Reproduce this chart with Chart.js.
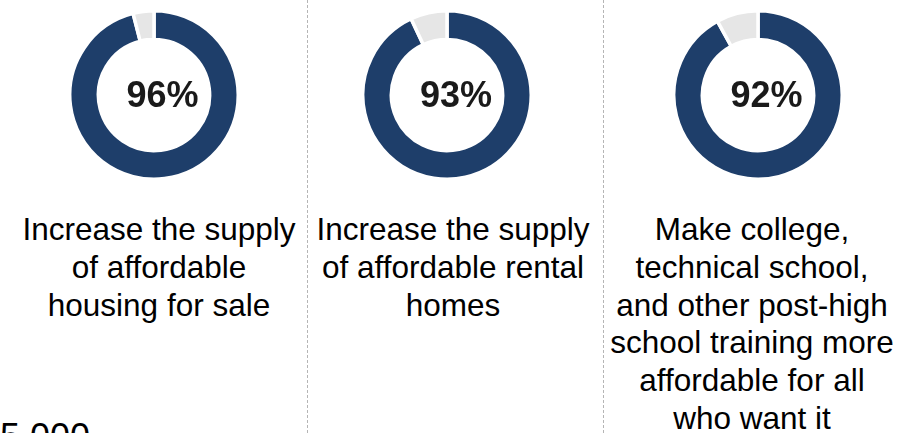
<!DOCTYPE html>
<html>
<head>
<meta charset="utf-8">
<script src="https://cdn.jsdelivr.net/npm/chart.js@4/dist/chart.umd.min.js"></script>
<style>
  html, body { margin: 0; padding: 0; background: #fff; }
  body { width: 920px; height: 433px; position: relative; overflow: hidden;
         font-family: "Liberation Sans", Arial, sans-serif; color: #000; }
  .ring { position: absolute; width: 172px; height: 172px; }
  .pct { position: absolute; width: 140px; text-align: center; font-weight: bold;
         font-size: 36px; line-height: 36px; color: #1a1a1a; }
  .label { position: absolute; white-space: nowrap; text-align: center;
           font-size: 31.5px; line-height: 37.8px; transform: translateX(-50%); }
  .sep { position: absolute; top: 0; height: 433px; width: 0;
         border-left: 1px dashed #b5b5b5; }
  .axisnum { position: absolute; left: 0; top: 419px; font-size: 36px; line-height: 36px; }
</style>
</head>
<body>
<div class="sep" style="left:307px"></div>
<div class="sep" style="left:603px"></div>
<div class="axisnum">5,000</div>

<script>
// valeurs
const categories = [
  'Increase the supply of affordable housing for sale',
  'Increase the supply of affordable rental homes',
  'Make college, technical school, and other post-high school training more affordable for all who want it'
]
const labelLines = [
  ['Increase the supply', 'of affordable', 'housing for sale'],
  ['Increase the supply', 'of affordable rental', 'homes'],
  ['Make college,', 'technical school,', 'and other post-high', 'school training more', 'affordable for all', 'who want it']
]
const supportValues = [96, 93, 92]
const otherValues = [4, 7, 8]

const ringCenters = [153.5, 447, 757.5]
const textCenters = [159, 453, 752]

const navy = '#1e3e6a'
const grey = '#e6e6e6'

categories.forEach((cat, i) => {
    // le conteneur du donut
    const box = document.createElement('div')
    box.className = 'ring'
    box.style.left = (ringCenters[i] - 86) + 'px'
    box.style.top = (95 - 86) + 'px'
    const canvas = document.createElement('canvas')
    box.appendChild(canvas)
    document.body.appendChild(box)

    new Chart(canvas, {
        type: 'doughnut',
        data: {
            labels: ['Support', 'Other'],
            datasets: [{
                data: [supportValues[i], otherValues[i]],
                backgroundColor: [navy, grey],
                borderColor: '#ffffff',
                borderWidth: 3.5
            }]
        },
        options: {
            responsive: true,
            maintainAspectRatio: false,
            animation: false,
            cutout: '66%',
            layout: { padding: 0 },
            plugins: { legend: { display: false }, tooltip: { enabled: false } },
            events: []
        }
    })

    // pourcentage au centre
    const pct = document.createElement('div')
    pct.className = 'pct'
    pct.textContent = supportValues[i] + '%'
    pct.style.left = (ringCenters[i] + 9 - 70) + 'px'
    pct.style.top = '76.5px'
    document.body.appendChild(pct)

    // libellé sous le donut
    const lab = document.createElement('div')
    lab.className = 'label'
    lab.style.left = textCenters[i] + 'px'
    lab.style.top = '211px'
    lab.innerHTML = labelLines[i].join('<br>')
    document.body.appendChild(lab)
})
</script>
</body>
</html>
